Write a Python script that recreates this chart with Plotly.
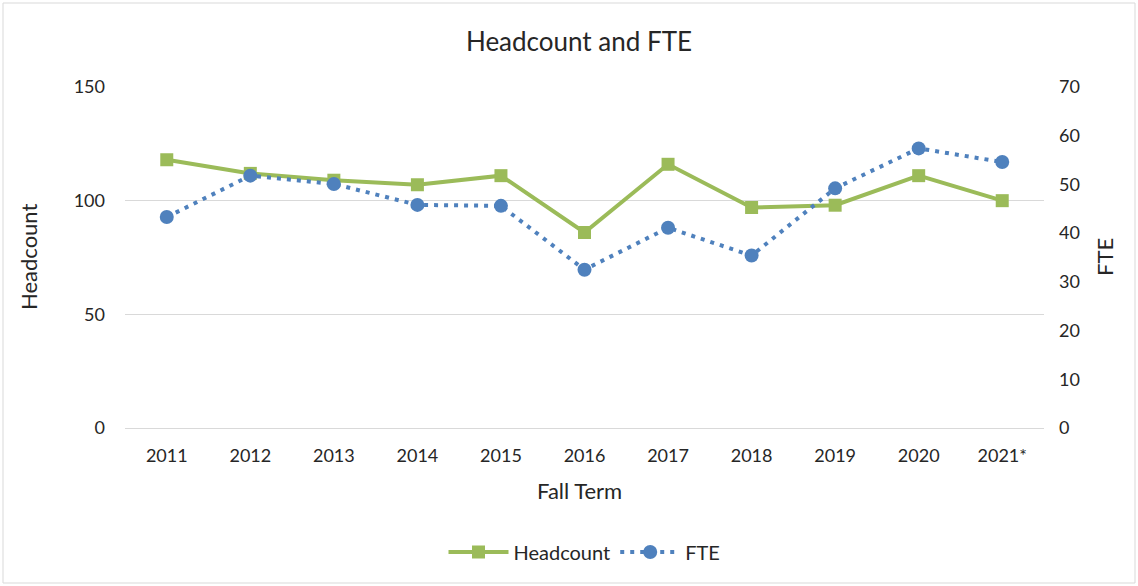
import plotly.graph_objects as go

years = ["2011", "2012", "2013", "2014", "2015", "2016", "2017", "2018", "2019", "2020", "2021*"]
headcount = [118, 112, 109, 107, 111, 86, 116, 97, 98, 111, 100]
fte = [43.3, 51.8, 50.1, 45.8, 45.6, 32.5, 41.1, 35.4, 49.2, 57.4, 54.6]

FONT = "Lato"
W, H = 1138, 586
L, R, T, B = 125, 94, 87, 158
pw, ph = W - L - R, H - T - B

fig = go.Figure()
fig.add_trace(go.Scatter(
    x=years, y=headcount, name="Headcount", mode="lines+markers",
    line=dict(color="#9BBB59", width=4),
    marker=dict(symbol="square", size=13, color="#9BBB59"),
    yaxis="y"))
fig.add_trace(go.Scatter(
    x=years, y=fte, name="FTE", mode="lines+markers",
    line=dict(color="#4F81BD", width=4, dash="4px,6px"),
    marker=dict(symbol="circle", size=14, color="#4F81BD"),
    yaxis="y2"))

def px_x(p):
    return (p - L) / pw

def px_y(p):
    return (H - B - p) / ph

fig.update_layout(
    width=W, height=H,
    margin=dict(l=L, r=R, t=T, b=B),
    paper_bgcolor="white", plot_bgcolor="white",
    font=dict(family=FONT, size=18, color="#262626"),
    title=dict(text="Headcount and FTE", xref="container", x=579 / W, xanchor="center",
               y=1 - 42 / H, yanchor="middle",
               font=dict(family=FONT, size=26, color="#262626")),
    xaxis=dict(type="category", range=[-0.5, 10.5], showgrid=False,
               showline=True, linecolor="#d9d9d9", linewidth=1,
               ticks="", tickfont=dict(size=18), ticklabelstandoff=11),
    yaxis=dict(range=[0, 150], dtick=50, showgrid=True, gridcolor="#d9d9d9",
               gridwidth=1, zeroline=False, showline=False, ticks="",
               tickfont=dict(size=18), ticklabelstandoff=19),
    yaxis2=dict(range=[0, 70], dtick=10, overlaying="y", side="right",
                showgrid=False, zeroline=False, showline=False, ticks="",
                tickfont=dict(size=18), ticklabelstandoff=14),
    showlegend=True,
    legend=dict(orientation="h", x=0.5, xanchor="center", y=px_y(552),
                yanchor="middle", font=dict(size=20), itemwidth=60,
                bgcolor="rgba(0,0,0,0)"),
    shapes=[dict(type="rect", xref="paper", yref="paper",
                 x0=px_x(3), x1=px_x(1135), y0=px_y(583), y1=px_y(3),
                 line=dict(color="#d9d9d9", width=1), layer="below")],
    annotations=[
        dict(text="Headcount", xref="paper", yref="paper", x=px_x(28), y=px_y(257),
             showarrow=False, textangle=-90, font=dict(size=22), xanchor="center", yanchor="middle"),
        dict(text="FTE", xref="paper", yref="paper", x=px_x(1104), y=px_y(257),
             showarrow=False, textangle=-90, font=dict(size=22), xanchor="center", yanchor="middle"),
        dict(text="Fall Term", xref="paper", yref="paper", x=px_x(579), y=px_y(490),
             showarrow=False, font=dict(size=22), xanchor="center", yanchor="middle"),
    ],
)

fig.write_html("out.html", config={"displayModeBar": False},
               post_script="document.body.style.margin='0';")
